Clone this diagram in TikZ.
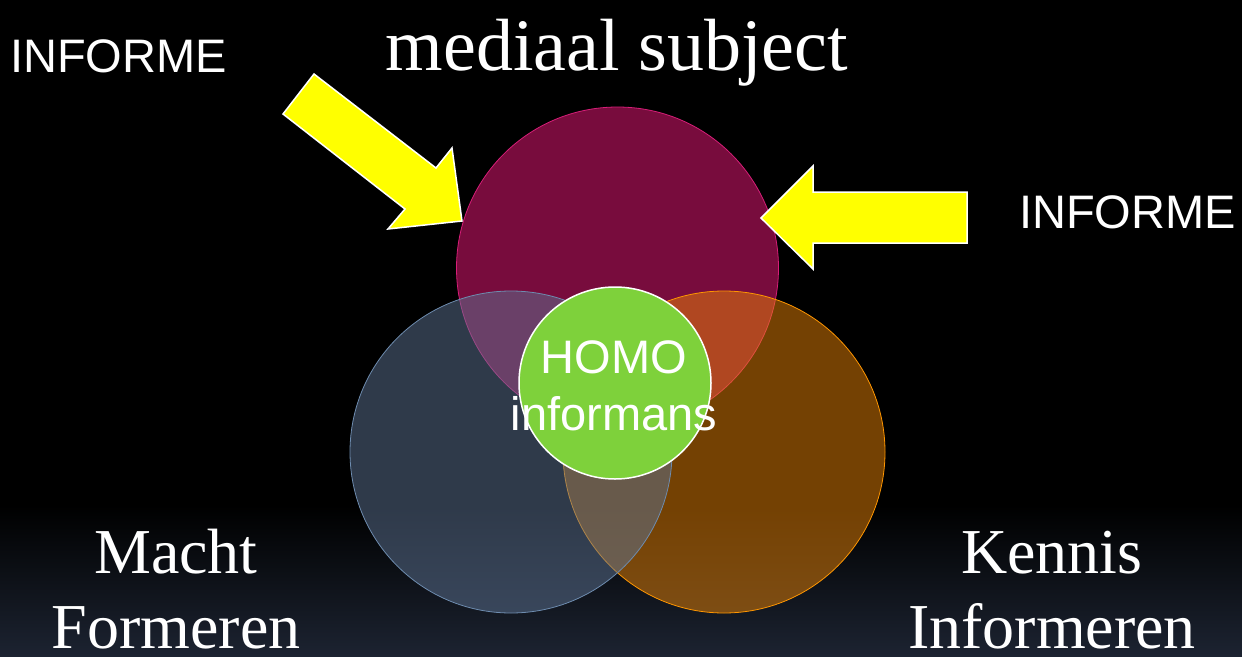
\documentclass[tikz,border=0pt]{standalone}
\usepackage{fontspec}
\setmainfont{Liberation Serif}
\newfontfamily\arialfont{Liberation Sans}
\usepackage{tikz}

\definecolor{bovenrood}{RGB}{120,12,61}
\definecolor{bovenrand}{RGB}{214,30,120}
\definecolor{machtblauw}{RGB}{94,116,148}
\definecolor{machtrand}{RGB}{110,140,175}
\definecolor{kennisoranje}{RGB}{232,130,6}
\definecolor{kennisrand}{RGB}{255,150,0}
\definecolor{homogroen}{RGB}{126,209,59}
\definecolor{geel}{RGB}{255,255,0}
\definecolor{bodem}{RGB}{28,35,49}

\begin{document}
\begin{tikzpicture}[x=1pt,y=-1pt,
  kring/.style={circle,inner sep=0pt,minimum size=322pt,line width=0.8pt},
  pijl/.style={fill=geel,draw=white,line width=1.5pt},
  groot/.style={text=white,font=\fontsize{64}{75}\selectfont,align=center,inner sep=0pt},
  informe/.style={text=white,font=\arialfont\fontsize{47}{50}\selectfont,inner sep=0pt}]
\useasboundingbox (0,0) rectangle (1242,656);
\fill[black] (0,0) rectangle (1242,656);
\shade[top color=black,bottom color=bodem] (0,505) rectangle (1242,656);

% de drie kringen
\node[kring,fill=bovenrood,draw=bovenrand] (medium) at (617.5,268) {};
\node[kring,fill=kennisoranje,fill opacity=0.5,draw=kennisrand] (kennis) at (724,452) {};
\node[kring,fill=machtblauw,fill opacity=0.5,draw=machtrand] (macht) at (511,452) {};
\node[circle,minimum size=192pt,inner sep=0pt,fill=homogroen,draw=white,line width=1.5pt] (homo) at (615,383) {};
\node[informe,font=\arialfont\fontsize{47}{57}\selectfont,align=center,anchor=base] (homotekst) at (614,430) {HOMO\\informans};

% pijlen
\draw[pijl] (314,74) -- (436,168) -- (452,148) -- (462,221) -- (388,229) -- (405,209) -- (283,114) -- cycle;
\draw[pijl] (761,218) -- (813,166) -- (813,192) -- (967,192) -- (967,243) -- (813,243) -- (813,269) -- cycle;

% teksten
\node[text=white,font=\fontsize{74}{80}\selectfont,inner sep=0pt,anchor=base] (titel) at (617,70) {mediaal subject};
\node[informe,anchor=base west] (informeL) at (10,72) {INFORME};
\node[informe,anchor=base east] (informeR) at (1236,228) {INFORME};
\node[groot,anchor=base] (machttekst) at (176,648) {Macht\\Formeren};
\node[groot,anchor=base] (kennistekst) at (1052,648) {Kennis\\Informeren};
\end{tikzpicture}
\end{document}
